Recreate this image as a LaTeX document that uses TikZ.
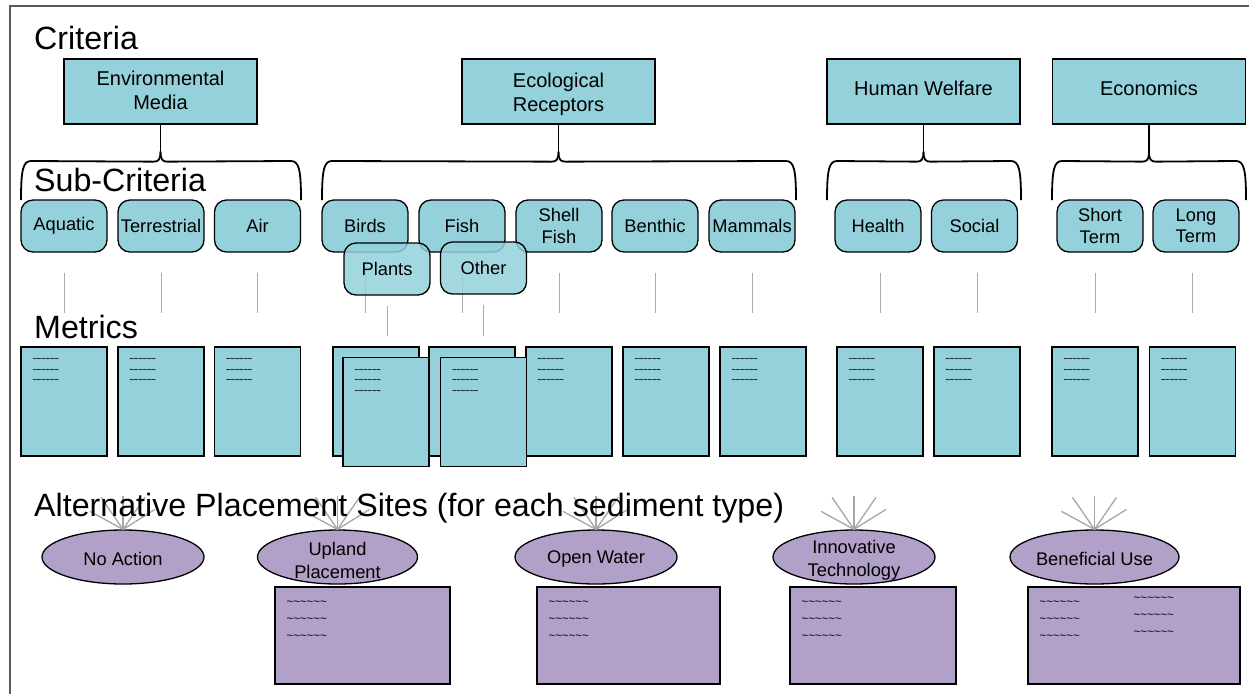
\documentclass[tikz,border=0pt]{standalone}
\usepackage{fontspec}
\setmainfont{Liberation Sans}
\usetikzlibrary{shapes.geometric,calc}

\definecolor{critfill}{RGB}{148,209,219}
\definecolor{sitefill}{RGB}{177,160,199}
\definecolor{framegray}{RGB}{90,90,90}

\newcommand\wavy{\textasciitilde\textasciitilde\textasciitilde\textasciitilde\textasciitilde\textasciitilde}

% curly brace hanging from the bottom of a criterion box
\newcommand\critbrace[3]{%
  \draw[bracepath] ($(#1.south)+(0,27)$) -- (#1.south);
  \draw[bracepath] ($(#1.south)+(0,27)$) .. controls ($(#1.south)+(0,35)$) and ($(#1.south)+(-2,37)$) .. ($(#1.south)+(-7,37)$)
     -- ({#2+10},161) .. controls ({#2+2},161) and (#2,170) .. (#2,200);
  \draw[bracepath] ($(#1.south)+(0,27)$) .. controls ($(#1.south)+(0,35)$) and ($(#1.south)+(2,37)$) .. ($(#1.south)+(7,37)$)
     -- ({#3-10},161) .. controls ({#3-2},161) and (#3,170) .. (#3,200);
}

\begin{document}
\begin{tikzpicture}[x=1pt,y=-1pt,
  heading/.style={anchor=west,inner sep=0,font=\fontsize{32.2}{38}\selectfont},
  critbox/.style={draw=black,line width=1.3pt,fill=critfill,minimum width=193pt,minimum height=65pt,inner sep=0},
  crittext/.style={align=center,inner sep=0,font=\fontsize{20}{24}\selectfont},
  subbox/.style={draw=black,line width=1.3pt,fill=critfill,rounded corners=12pt,minimum width=86pt,
    minimum height=52pt,align=center,inner sep=0,font=\fontsize{18.3}{21.5}\selectfont},
  metricbox/.style={draw=black,line width=1.3pt,fill=critfill,minimum width=86pt,minimum height=109pt,inner sep=0},
  metrictext/.style={anchor=north west,align=left,inner sep=0,font=\fontsize{7.5}{10.5}\bfseries\selectfont},
  siteoval/.style={ellipse,draw=black,line width=1.3pt,fill=sitefill,minimum height=54pt,inner sep=0},
  sitelabel/.style={align=center,inner sep=0,font=\fontsize{18.3}{23}\selectfont},
  sitebox/.style={draw=black,line width=1.3pt,fill=sitefill,minimum height=97pt,inner sep=0},
  sitetext/.style={anchor=north west,align=left,inner sep=0,font=\fontsize{11.5}{17}\selectfont},
  bracepath/.style={draw=black,line width=1.8pt},
  link/.style={draw=gray!65,line width=1pt},
  spoke/.style={draw=gray!70,line width=1.3pt},
  frame/.style={draw=framegray,line width=2pt}]

\useasboundingbox (0,0) rectangle (1249,694);
\draw[frame] (10,694) -- (10,6) -- (1249,6);

% ---------- criteria ----------
\node[heading] (hcrit) at (34,38) {Criteria};
\node[critbox] (env) at (160.5,91.5) {};
\node[critbox] (eco) at (558.5,91.5) {};
\node[critbox] (hum) at (923.5,91.5) {};
\node[critbox] (econ) at (1149,91.5) {};
\node[crittext] (envt) at ($(env)+(0,-1.5)$) {Environmental\\Media};
\node[crittext] (ecot) at ($(eco)+(0,3)$) {Ecological\\Receptors};
\node[crittext] (humt) at ($(hum)+(0,-3.5)$) {Human Welfare};
\node[crittext] (econt) at ($(econ)+(0,-3.5)$) {Economics};

\critbrace{env}{21}{301}
\critbrace{eco}{322}{796}
\critbrace{hum}{827}{1021}
\critbrace{econ}{1052}{1246}

% ---------- sub-criteria ----------
\node[heading] (hsub) at (34,180) {Sub-Criteria};
\node[subbox] (aq) at (64,226) {Aquatic};
\node[subbox] (te) at (161,226) {Terrestrial};
\node[subbox] (air) at (257.5,226) {Air};
\node[subbox] (bi) at (365,226) {Birds};
\node[subbox] (fi) at (462,226) {Fish};
\node[subbox] (sh) at (559,226) {Shell\\Fish};
\node[subbox] (be) at (655,226) {Benthic};
\node[subbox] (ma) at (752,226) {Mammals};
\node[subbox] (he) at (878,226) {Health};
\node[subbox] (so) at (974.5,226) {Social};
\node[subbox] (st) at (1100,226) {Short\\Term};
\node[subbox] (lt) at (1196,226) {Long\\Term};

% ---------- metrics ----------
\node[heading] (hmet) at (34,327) {Metrics};
\node[metricbox] (maq) at (64,401.5) {};
\node[metricbox] (mte) at (161,401.5) {};
\node[metricbox] (mair) at (257.5,401.5) {};
\node[metricbox] (mbi) at (376,401.5) {};
\node[metricbox] (mfi) at (472,401.5) {};
\node[metricbox] (msh) at (569,401.5) {};
\node[metricbox] (mbe) at (666,401.5) {};
\node[metricbox] (mma) at (763,401.5) {};
\node[metricbox] (mhe) at (880,401.5) {};
\node[metricbox] (mso) at (977,401.5) {};
\node[metricbox] (mst) at (1095,401.5) {};
\node[metricbox] (mlt) at (1192.5,401.5) {};
\node[metricbox] (mpl) at (386,412) {};
\node[metricbox] (mot) at (483.5,412) {};

\foreach \m in {maq,mte,mair,msh,mbe,mma,mhe,mso,mst,mlt,mpl,mot}
  \node[metrictext] at ($(\m.north west)+(12,12)$) {\wavy\\\wavy\\\wavy};

% links from sub-criteria to their metrics
\foreach \s/\m in {aq/maq,te/mte,air/mair,he/mhe,so/mso,st/mst,lt/mlt}
  \draw[link] ($(\m.north |- \s.south)+(0,20)$) -- ($(\m.north)+(0,-33)$);
\foreach \s/\m in {bi/mbi,fi/mfi,sh/msh,be/mbe,ma/mma}
  \draw[link] ($(\s.south)+(0,20)$) -- ($(\s.south |- \m.north)+(0,-33)$);

% overlapping sub-criteria
\node[subbox,fill opacity=0.85,text opacity=1] (pl) at (387,269) {Plants};
\node[subbox,fill opacity=0.85,text opacity=1] (ot) at (483.5,268) {Other};
\draw[link] ($(pl.south)+(0,10)$) -- ($(pl.south |- mpl.north)+(0,-21)$);
\draw[link] ($(ot.south)+(0,10)$) -- ($(ot.south |- mot.north)+(0,-21)$);

% ---------- alternative placement sites ----------
\node[siteoval,minimum width=162pt] (na) at (123,557) {};
\node[siteoval,minimum width=160pt] (up) at (337.5,557) {};
\node[siteoval,minimum width=162pt] (ow) at (596,557) {};
\node[siteoval,minimum width=162pt] (it) at (854,557) {};
\node[siteoval,minimum width=169pt] (bu) at (1094.5,557) {};

\foreach \e in {na,up,ow,it,bu}
  \foreach \dx/\dy in {-33/-18,-22/-32,0/-33,22/-32,32/-20}
    \draw[spoke] (\e.north) -- ++(\dx,\dy);

\node[heading] (halt) at (34,508) {Alternative Placement Sites (for each sediment type)};

\node[sitelabel] at ($(na)+(0,2)$) {No Action};
\node[sitelabel] at ($(up)+(0,3)$) {Upland\\Placement};
\node[sitelabel] at ($(ow)+(0,2)$) {Open Water};
\node[sitelabel] at ($(it)+(0,3)$) {Innovative\\Technology};
\node[sitelabel] at ($(bu)+(0,2)$) {Beneficial Use};

\node[sitebox,minimum width=175pt] (sup) at (362.5,635.5) {};
\node[sitebox,minimum width=183pt] (sow) at (628.5,635.5) {};
\node[sitebox,minimum width=166pt] (sit) at (873,635.5) {};
\node[sitebox,minimum width=212pt] (sbu) at (1134,635.5) {};

\foreach \b in {sup,sow,sit,sbu}
  \node[sitetext] at ($(\b.north west)+(12,14)$) {\wavy\\\wavy\\\wavy};
\node[sitetext] at ($(sbu.north west)+(106,10)$) {\wavy\\\wavy\\\wavy};

\end{tikzpicture}
\end{document}
